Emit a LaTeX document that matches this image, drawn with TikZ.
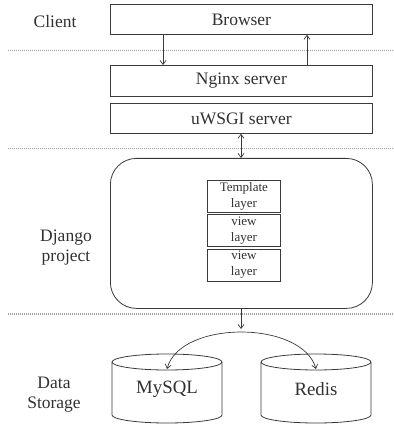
\documentclass[tikz,border=0pt]{standalone}
\usepackage{fontspec}
\setmainfont{Liberation Serif}
\usetikzlibrary{arrows.meta}
\definecolor{ink}{HTML}{3A3A3A}
\definecolor{txt}{HTML}{303030}
\tikzset{
  big/.style={font=\fontsize{17.5}{20}\selectfont, text=txt, align=center},
  dbtext/.style={font=\fontsize{18.8}{22}\selectfont, text=txt, align=center},
  small/.style={font=\fontsize{13}{16}\selectfont, text=txt, align=center},
  layerbox/.style={draw=ink, line width=0.8pt, minimum width=262pt, minimum height=30pt, inner sep=0pt, anchor=north west},
  inbox/.style={draw=ink, line width=0.8pt, minimum width=73pt, minimum height=32pt, inner sep=0pt, anchor=north west},
  sep/.style={draw=gray!75, line width=1.4pt, dash pattern=on 0.8pt off 1.2pt},
  conn/.style={draw=ink, line width=0.7pt, -{Straight Barb[length=4pt,width=6pt]}},
  dconn/.style={draw=ink, line width=0.7pt, {Straight Barb[length=4pt,width=6pt]}-{Straight Barb[length=4pt,width=6pt]}},
  cyl/.style={draw=ink, line width=0.8pt}
}
\begin{document}
\begin{tikzpicture}[x=1pt,y=-1pt]
\useasboundingbox (0,0) rectangle (393,427);
% separators
\draw[sep] (8,50.5) -- (393,50.5);
\draw[sep] (8,148.5) -- (393,148.5);
\draw[sep] (8,314) -- (393,314);
% left labels
\node[big] (client) at (55,22) {Client};
\node[big] (django) at (66,248) {Django\\project};
\node[big] (data) at (54,395) {Data\\Storage};
% boxes
\node[layerbox] (browser) at (110,4) {};
\node[big] at (browser.center) {Browser};
\node[layerbox, minimum height=31pt] (nginx) at (110,65) {};
\node[big] at (nginx.center) {Nginx server};
\node[layerbox] (uwsgi) at (110,103) {};
\node[big] at (uwsgi.center) {uWSGI server};
% django project
\node[draw=ink, line width=0.8pt, rounded corners=26pt, minimum width=262pt, minimum height=150pt, inner sep=0pt, anchor=north west] (proj) at (110,158) {};
\node[inbox] (tpl) at (207,180) {};
\node[small] at (tpl.center) {Template\\layer};
\node[inbox] (view1) at (207,214) {};
\node[small] at (view1.center) {view\\layer};
\node[inbox] (view2) at (207,248.5) {};
\node[small] at (view2.center) {view\\layer};
% cylinders
\draw[cyl] (112,362) -- (112,415) arc[start angle=180, end angle=360, x radius=55, y radius=-8] -- (222,362);
\draw[cyl] (167,362) ellipse[x radius=55, y radius=8];
\draw[cyl] (261,362) -- (261,415) arc[start angle=180, end angle=360, x radius=55, y radius=-8] -- (371,362);
\draw[cyl] (316,362) ellipse[x radius=55, y radius=8];
\node[dbtext] (mysql) at (167,389) {MySQL};
\node[dbtext] (redis) at (316,389) {Redis};
\coordinate (mysqltop) at (167,369);
\coordinate (redistop) at (316,369);
\coordinate (fork) at (241,329);
% connectors
\draw[conn] (browser.south -| 163,0) -- (nginx.north -| 163,0);
\draw[conn] (nginx.north -| 307,0) -- (browser.south -| 307,0);
\draw[dconn] (uwsgi.south -| 241,0) -- (proj.north -| 241,0);
\draw[conn] (proj.south -| 241,0) -- (fork);
\draw[dconn] (mysqltop) .. controls (180,320) and (302,320) .. (redistop);
\end{tikzpicture}
\end{document}
